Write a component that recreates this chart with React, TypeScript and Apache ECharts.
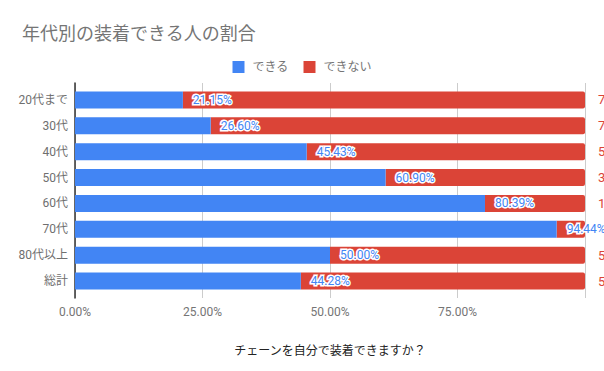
import React, { useEffect, useRef } from "react";
import * as echarts from "echarts";

const categories = ["20代まで", "30代", "40代", "50代", "60代", "70代", "80代以上", "総計"];
const canValues = [21.15, 26.6, 45.43, 60.9, 80.39, 94.44, 50.0, 44.28];
const cannotValues = [78.85, 73.4, 54.57, 39.1, 19.61, 5.56, 50.0, 55.72];
const xTicks = [0, 25, 50, 75, 100];
const titleText = "年代別の装着できる人の割合";
const axisTitle = "チェーンを自分で装着できますか？";
const seriesNames = ["できる", "できない"];

const FONT = "Roboto, 'Noto Sans CJK JP', sans-serif";

export default function App() {
  const ref = useRef<HTMLDivElement>(null);
  useEffect(() => {
    document.body.style.margin = "0";
    const chart = echarts.init(ref.current!, null, { renderer: "svg" });
    const option: any = {
      animation: false,
      backgroundColor: "#fff",
      textStyle: { fontFamily: FONT },
      title: {
        text: titleText,
        left: 17,
        top: 19,
        textStyle: { fontSize: 18, fontWeight: "normal", color: "#757575", fontFamily: FONT },
      },
      legend: {
        data: seriesNames,
        left: "center",
        top: 56,
        icon: "rect",
        itemWidth: 12,
        itemHeight: 12,
        itemGap: 15,
        textStyle: { fontSize: 12, color: "#757575", padding: [0, 0, 0, 3], fontFamily: FONT },
      },
      grid: [
        { left: 75, right: 19, top: 87, height: 207 },
        { left: 75, right: 19, top: 83, bottom: 73 },
      ],
      xAxis: [
        { type: "value", gridIndex: 0, min: 0, max: 100, show: false },
        {
          type: "value",
          gridIndex: 1,
          min: xTicks[0],
          max: xTicks[xTicks.length - 1],
          interval: 25,
          axisLine: { show: false },
          axisTick: { show: false },
          splitLine: { show: true, lineStyle: { color: "#cccccc", width: 1 } },
          axisLabel: {
            color: "#757575",
            fontSize: 12,
            margin: 8,
            showMaxLabel: false,
            formatter: (v: number) => v.toFixed(2) + "%",
          },
          name: axisTitle,
          nameLocation: "middle",
          nameGap: 47,
          nameTextStyle: { color: "#222222", fontSize: 12, fontFamily: FONT },
        },
      ],
      yAxis: [
        {
          type: "category",
          gridIndex: 0,
          data: categories,
          inverse: true,
          axisLine: { show: false },
          axisTick: { show: false },
          splitLine: { show: false },
          axisLabel: { color: "#6f6f6f", fontSize: 12, margin: 7 },
        },
        {
          type: "value",
          gridIndex: 1,
          axisLine: { show: true, lineStyle: { color: "#333333", width: 1.5 } },
          axisTick: { show: false },
          axisLabel: { show: false },
          splitLine: { show: false },
        },
      ],
      series: [
        {
          name: seriesNames[0],
          type: "bar",
          stack: "total",
          xAxisIndex: 0,
          yAxisIndex: 0,
          barWidth: 17,
          data: canValues,
          itemStyle: { color: "#4285f4" },
          z: 3,
          label: {
            show: true,
            position: "right",
            distance: 10,
            color: "#4285f4",
            fontSize: 12,
            textBorderColor: "#ffffff",
            textBorderWidth: 3,
            formatter: (p: any) => p.value.toFixed(2) + "%",
          },
        },
        {
          name: seriesNames[1],
          type: "bar",
          stack: "total",
          xAxisIndex: 0,
          yAxisIndex: 0,
          barWidth: 17,
          z: 2,
          data: cannotValues.map((v, i) =>
            i === 5 ? { value: v, label: { show: false } } : v
          ),
          itemStyle: { color: "#db4437", borderRadius: [0, 2, 2, 0] },
          label: {
            show: true,
            position: "right",
            distance: 13,
            color: "#db4437",
            fontSize: 13,
            formatter: (p: any) => p.value.toFixed(2) + "%",
          },
        },
      ],
    };
    chart.setOption(option);
    return () => chart.dispose();
  }, []);
  return <div ref={ref} style={{ width: 604, height: 371 }} />;
}
